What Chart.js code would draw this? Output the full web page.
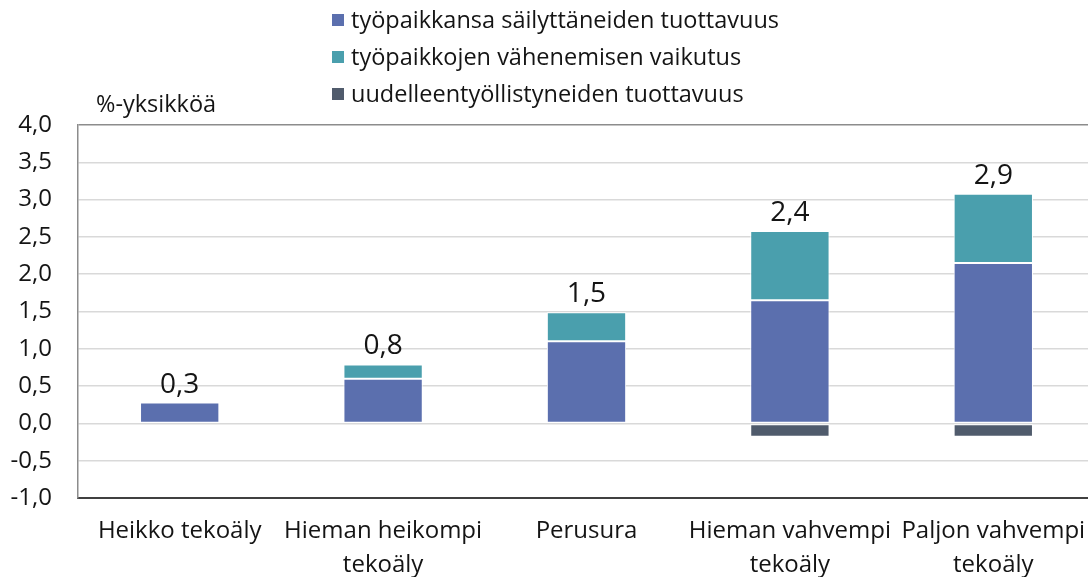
<!DOCTYPE html>
<html>
<head>
<meta charset="utf-8">
<script src="https://cdn.jsdelivr.net/npm/chart.js@4.4.1/dist/chart.umd.min.js"></script>
<style>
  html, body { margin: 0; padding: 0; background: #ffffff; overflow: hidden; }
  #wrap { position: relative; width: 1096px; height: 577px; }
  canvas { display: block; }
</style>
</head>
<body>
<div id="wrap"><canvas id="c" width="1096" height="577"></canvas></div>
<script>
const categories = [
  "Heikko tekoäly",
  ["Hieman heikompi", "tekoäly"],
  "Perusura",
  ["Hieman vahvempi", "tekoäly"],
  ["Paljon vahvempi", "tekoäly"]
];
const seriesNames = [
  "työpaikkansa säilyttäneiden tuottavuus",
  "työpaikkojen vähenemisen vaikutus",
  "uudelleentyöllistyneiden tuottavuus"
];
const retainedValues = [0.28, 0.6, 1.1, 1.65, 2.15];
const reductionValues = [0, 0.19, 0.39, 0.93, 0.93];
const reemployedValues = [0, 0, 0, -0.18, -0.18];
const totalLabels = ["0,3", "0,8", "1,5", "2,4", "2,9"];
const yAxisTitle = "%-yksikköä";
const seriesColors = ["#5b6fae", "#4a9fad", "#505b6c"];

const FONT = "'Open Sans', sans-serif";
const TEXT = "#141414";

const fmt = v => v.toFixed(1).replace('.', ',');

const extrasPlugin = {
  id: 'extras',
  afterDatasetsDraw(chart) {
    const ctx = chart.ctx;
    const y = chart.scales.y;
    const x = chart.scales.x;
    ctx.save();
    // totals above bars
    ctx.font = "28px " + FONT;
    ctx.fillStyle = TEXT;
    ctx.textAlign = "center";
    ctx.textBaseline = "alphabetic";
    categories.forEach((c, i) => {
      const top = retainedValues[i] + reductionValues[i];
      const px = x.getPixelForValue(i);
      const py = y.getPixelForValue(top);
      ctx.fillText(totalLabels[i], px, py - 10);
    });
    // y axis title
    ctx.font = "23.5px " + FONT;
    ctx.textAlign = "left";
    ctx.textBaseline = "middle";
    ctx.fillText(yAxisTitle, 96, 105);
    // legend
    const rows = [20, 57, 94];
    seriesNames.forEach((n, i) => {
      ctx.fillStyle = seriesColors[i];
      ctx.fillRect(332, rows[i] - 6, 12, 12);
      ctx.fillStyle = TEXT;
      ctx.fillText(n, 351, rows[i] + 1);
    });
    ctx.restore();
  }
};

new Chart(document.getElementById('c'), {
  type: 'bar',
  data: {
    labels: categories,
    datasets: [
      { label: seriesNames[0], data: retainedValues, backgroundColor: seriesColors[0] },
      { label: seriesNames[1], data: reductionValues, backgroundColor: seriesColors[1] },
      { label: seriesNames[2], data: reemployedValues, backgroundColor: seriesColors[2] }
    ].map(d => Object.assign(d, {
      borderColor: '#ffffff', borderWidth: 1, borderSkipped: false,
      categoryPercentage: 1, barPercentage: 0.39
    }))
  },
  options: {
    responsive: false,
    animation: false,
    devicePixelRatio: 1,
    layout: { padding: { top: 125, right: 1, left: 0, bottom: 0 } },
    plugins: { legend: { display: false }, tooltip: { enabled: false } },
    scales: {
      x: {
        stacked: true,
        grid: { display: false, drawTicks: false },
        border: { display: true, color: '#404040', width: 2 },
        ticks: { color: TEXT, font: { family: FONT, size: 24, lineHeight: 1.38 }, padding: 17, maxRotation: 0, autoSkip: false },
        afterFit: s => { s.height = 79; s.paddingLeft = 0; s.paddingRight = 0; }
      },
      y: {
        stacked: true,
        min: -1, max: 4,
        grid: {
          drawTicks: false,
          color: c => (c.tick && c.tick.value === 4) ? '#8c8c8c' : '#d9d9d9',
          lineWidth: 1.5
        },
        border: { display: true, color: '#8c8c8c', width: 1.5 },
        ticks: {
          stepSize: 0.5, color: TEXT, padding: 26,
          font: { family: FONT, size: 24 },
          callback: v => fmt(v)
        },
        afterFit: s => { s.width = 78; }
      }
    }
  },
  plugins: [extrasPlugin]
});
</script>
</body>
</html>
